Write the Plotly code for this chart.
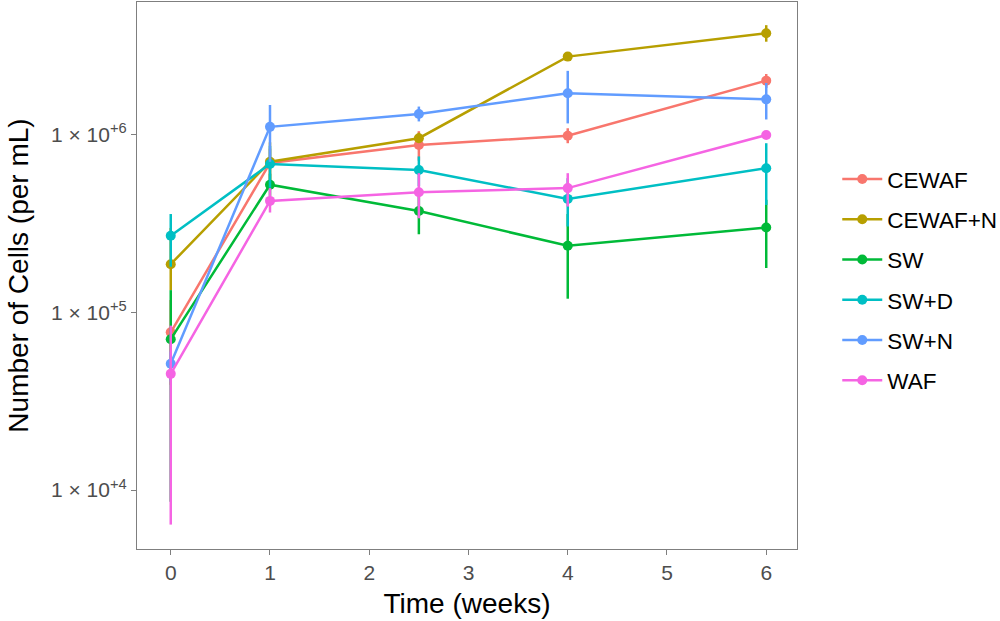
import plotly.graph_objects as go

weeks = [0, 1, 2.5, 4, 6]
groups = ["CEWAF", "CEWAF+N", "SW", "SW+D", "SW+N", "WAF"]
colors = ["#F8766D", "#B79F00", "#00BA38", "#00BFC4", "#619CFF", "#F564E3"]

mean_cewaf = [7.7e4, 6.9e5, 8.7e5, 9.8e5, 2.0e6]
upper_cewaf = [1.17e5, 8.3e5, 1.04e6, 1.08e6, 2.18e6]
lower_cewaf = [3.9e4, 5.5e5, 7.1e5, 8.9e5, 1.82e6]

mean_cewafn = [1.86e5, 7.0e5, 9.5e5, 2.73e6, 3.69e6]
upper_cewafn = [2.97e5, 9.0e5, 1.02e6, 2.73e6, 4.1e6]
lower_cewafn = [1.33e5, 5.1e5, 9.0e5, 2.73e6, 3.31e6]

mean_sw = [7.05e4, 5.2e5, 3.7e5, 2.36e5, 2.99e5]
upper_sw = [1.33e5, 6.0e5, 4.67e5, 3.56e5, 4.28e5]
lower_sw = [8.6e3, 4.5e5, 2.74e5, 1.19e5, 1.77e5]

mean_swd = [2.69e5, 6.8e5, 6.3e5, 4.33e5, 6.44e5]
upper_swd = [3.56e5, 8.6e5, 7.5e5, 5.66e5, 8.9e5]
lower_swd = [1.8e5, 5.0e5, 5.1e5, 3.03e5, 4.0e5]

mean_swn = [5.13e4, 1.10e6, 1.30e6, 1.70e6, 1.57e6]
upper_swn = [6.0e4, 1.46e6, 1.43e6, 2.27e6, 1.94e6]
lower_swn = [4.07e4, 7.0e5, 1.18e6, 1.15e6, 1.21e6]

mean_waf = [4.5e4, 4.22e5, 4.72e5, 4.98e5, 9.9e5]
upper_waf = [8.4e4, 4.98e5, 6.04e5, 6.04e5, 1.02e6]
lower_waf = [6.4e3, 3.63e5, 3.37e5, 3.92e5, 9.6e5]

y_tickvals = [1e4, 1e5, 1e6]
y_ticktext = ["1 × 10<sup>+4</sup>", "1 × 10<sup>+5</sup>", "1 × 10<sup>+6</sup>"]
x_tickvals = [0, 1, 2, 3, 4, 5, 6]

series = [
    (mean_cewaf, upper_cewaf, lower_cewaf),
    (mean_cewafn, upper_cewafn, lower_cewafn),
    (mean_sw, upper_sw, lower_sw),
    (mean_swd, upper_swd, lower_swd),
    (mean_swn, upper_swn, lower_swn),
    (mean_waf, upper_waf, lower_waf),
]

fig = go.Figure()
for name, col, (m, up, lo) in zip(groups, colors, series):
    fig.add_trace(go.Scatter(
        x=weeks, y=m, name=name, legendgroup=name,
        mode="lines+markers",
        line=dict(color=col, width=2.5),
        marker=dict(color=col, size=10),
        error_y=dict(type="data", symmetric=False,
                     array=[u - v for u, v in zip(up, m)],
                     arrayminus=[v - l for v, l in zip(m, lo)],
                     color=col, thickness=2.5, width=0),
    ))

fig.update_layout(
    width=1000, height=621,
    margin=dict(l=137, r=203, t=2, b=72, autoexpand=False),
    paper_bgcolor="white", plot_bgcolor="white",
    font=dict(family="Liberation Sans, Arial, sans-serif", color="black"),
    showlegend=True,
    legend=dict(x=1.061, y=0.492, xanchor="left", yanchor="middle",
                font=dict(size=22.5, color="black"), tracegroupgap=8,
                itemwidth=40),
    xaxis=dict(range=[-0.34, 6.31], tickvals=x_tickvals, showgrid=False, zeroline=False,
               showline=True, mirror=True, linecolor="#7F7F7F", linewidth=1.2,
               ticks="outside", ticklen=5, tickcolor="#7F7F7F", tickwidth=1.2,
               tickfont=dict(size=21, color="#4D4D4D"),
               title=dict(text="Time (weeks)", font=dict(size=28), standoff=10)),
    yaxis=dict(type="log", range=[3.669, 6.743], tickvals=y_tickvals, ticktext=y_ticktext,
               showgrid=False, zeroline=False,
               showline=True, mirror=True, linecolor="#7F7F7F", linewidth=1.2,
               ticks="outside", ticklen=5, tickcolor="#7F7F7F", tickwidth=1.2,
               tickfont=dict(size=21, color="#4D4D4D"),
               title=dict(text="Number of Cells (per mL)", font=dict(size=28), standoff=14)),
)

fig.write_html("out.html", config={"displayModeBar": False},
               post_script="document.body.style.margin='0';")
